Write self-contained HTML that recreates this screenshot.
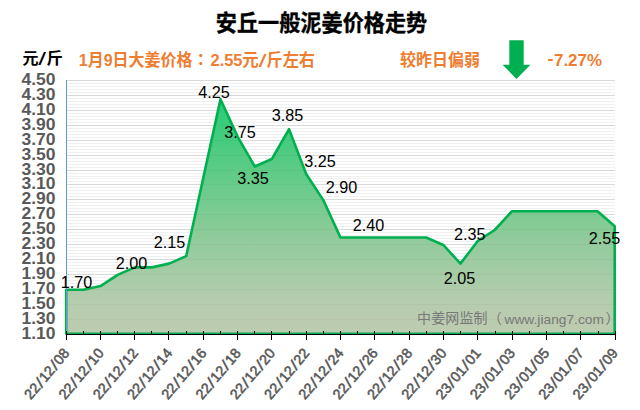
<!DOCTYPE html>
<html><head><meta charset="utf-8"><title>安丘一般泥姜价格走势</title>
<style>
html,body{margin:0;padding:0;background:#fff;}
body{width:640px;height:410px;overflow:hidden;}
svg{display:block;}
text{font-family:"Liberation Sans","Noto Sans CJK SC",sans-serif;}
.cjk{font-family:"Liberation Sans","Noto Sans CJK SC",sans-serif;font-weight:bold;}
.yl{font-size:16px;font-weight:bold;fill:#595959;text-anchor:end;}
.xl{font-size:14.3px;font-weight:bold;fill:#595959;text-anchor:end;}
.xl2 text{font-size:14.3px;font-weight:normal;fill:#595959;stroke:#595959;stroke-width:0.55px;}
.dl{font-size:16.2px;fill:#000;text-anchor:middle;}
</style></head><body>
<svg width="640" height="410" viewBox="0 0 640 410">
<defs>
<linearGradient id="g" gradientUnits="userSpaceOnUse" x1="0" y1="98" x2="0" y2="334">
<stop offset="0" stop-color="rgb(40,205,117)"/>
<stop offset="0.22" stop-color="rgb(78,203,128)"/>
<stop offset="0.60" stop-color="rgb(145,203,155)"/>
<stop offset="0.856" stop-color="rgb(181,204,174)"/>
<stop offset="1" stop-color="rgb(189,204,177)"/>
</linearGradient>
<clipPath id="c"><rect x="66" y="70" width="550.6" height="264.5"/></clipPath>
</defs>
<rect width="640" height="410" fill="#fff"/>
<g shape-rendering="crispEdges"><rect x="67" y="80" width="548" height="1" fill="#d9d9d9"/><rect x="67" y="83" width="548" height="1" fill="#f0f0f0"/><rect x="67" y="86" width="548" height="1" fill="#f0f0f0"/><rect x="67" y="89" width="548" height="1" fill="#f0f0f0"/><rect x="67" y="92" width="548" height="1" fill="#f0f0f0"/><rect x="67" y="95" width="548" height="1" fill="#d9d9d9"/><rect x="67" y="98" width="548" height="1" fill="#f0f0f0"/><rect x="67" y="101" width="548" height="1" fill="#f0f0f0"/><rect x="67" y="104" width="548" height="1" fill="#f0f0f0"/><rect x="67" y="107" width="548" height="1" fill="#f0f0f0"/><rect x="67" y="110" width="548" height="1" fill="#d9d9d9"/><rect x="67" y="113" width="548" height="1" fill="#f0f0f0"/><rect x="67" y="116" width="548" height="1" fill="#f0f0f0"/><rect x="67" y="119" width="548" height="1" fill="#f0f0f0"/><rect x="67" y="122" width="548" height="1" fill="#f0f0f0"/><rect x="67" y="125" width="548" height="1" fill="#d9d9d9"/><rect x="67" y="128" width="548" height="1" fill="#f0f0f0"/><rect x="67" y="131" width="548" height="1" fill="#f0f0f0"/><rect x="67" y="134" width="548" height="1" fill="#f0f0f0"/><rect x="67" y="137" width="548" height="1" fill="#f0f0f0"/><rect x="67" y="140" width="548" height="1" fill="#d9d9d9"/><rect x="67" y="143" width="548" height="1" fill="#f0f0f0"/><rect x="67" y="146" width="548" height="1" fill="#f0f0f0"/><rect x="67" y="149" width="548" height="1" fill="#f0f0f0"/><rect x="67" y="152" width="548" height="1" fill="#f0f0f0"/><rect x="67" y="155" width="548" height="1" fill="#d9d9d9"/><rect x="67" y="158" width="548" height="1" fill="#f0f0f0"/><rect x="67" y="161" width="548" height="1" fill="#f0f0f0"/><rect x="67" y="164" width="548" height="1" fill="#f0f0f0"/><rect x="67" y="167" width="548" height="1" fill="#f0f0f0"/><rect x="67" y="170" width="548" height="1" fill="#d9d9d9"/><rect x="67" y="173" width="548" height="1" fill="#f0f0f0"/><rect x="67" y="176" width="548" height="1" fill="#f0f0f0"/><rect x="67" y="178" width="548" height="1" fill="#f0f0f0"/><rect x="67" y="181" width="548" height="1" fill="#f0f0f0"/><rect x="67" y="184" width="548" height="1" fill="#d9d9d9"/><rect x="67" y="187" width="548" height="1" fill="#f0f0f0"/><rect x="67" y="190" width="548" height="1" fill="#f0f0f0"/><rect x="67" y="193" width="548" height="1" fill="#f0f0f0"/><rect x="67" y="196" width="548" height="1" fill="#f0f0f0"/><rect x="67" y="199" width="548" height="1" fill="#d9d9d9"/><rect x="67" y="202" width="548" height="1" fill="#f0f0f0"/><rect x="67" y="205" width="548" height="1" fill="#f0f0f0"/><rect x="67" y="208" width="548" height="1" fill="#f0f0f0"/><rect x="67" y="211" width="548" height="1" fill="#f0f0f0"/><rect x="67" y="214" width="548" height="1" fill="#d9d9d9"/><rect x="67" y="217" width="548" height="1" fill="#f0f0f0"/><rect x="67" y="220" width="548" height="1" fill="#f0f0f0"/><rect x="67" y="223" width="548" height="1" fill="#f0f0f0"/><rect x="67" y="226" width="548" height="1" fill="#f0f0f0"/><rect x="67" y="229" width="548" height="1" fill="#d9d9d9"/><rect x="67" y="232" width="548" height="1" fill="#f0f0f0"/><rect x="67" y="235" width="548" height="1" fill="#f0f0f0"/><rect x="67" y="238" width="548" height="1" fill="#f0f0f0"/><rect x="67" y="241" width="548" height="1" fill="#f0f0f0"/><rect x="67" y="244" width="548" height="1" fill="#d9d9d9"/><rect x="67" y="247" width="548" height="1" fill="#f0f0f0"/><rect x="67" y="250" width="548" height="1" fill="#f0f0f0"/><rect x="67" y="253" width="548" height="1" fill="#f0f0f0"/><rect x="67" y="256" width="548" height="1" fill="#f0f0f0"/><rect x="67" y="259" width="548" height="1" fill="#d9d9d9"/><rect x="67" y="262" width="548" height="1" fill="#f0f0f0"/><rect x="67" y="265" width="548" height="1" fill="#f0f0f0"/><rect x="67" y="268" width="548" height="1" fill="#f0f0f0"/><rect x="67" y="271" width="548" height="1" fill="#f0f0f0"/><rect x="67" y="274" width="548" height="1" fill="#d9d9d9"/><rect x="67" y="277" width="548" height="1" fill="#f0f0f0"/><rect x="67" y="280" width="548" height="1" fill="#f0f0f0"/><rect x="67" y="283" width="548" height="1" fill="#f0f0f0"/><rect x="67" y="286" width="548" height="1" fill="#f0f0f0"/><rect x="67" y="289" width="548" height="1" fill="#d9d9d9"/><rect x="67" y="292" width="548" height="1" fill="#f0f0f0"/><rect x="67" y="295" width="548" height="1" fill="#f0f0f0"/><rect x="67" y="298" width="548" height="1" fill="#f0f0f0"/><rect x="67" y="301" width="548" height="1" fill="#f0f0f0"/><rect x="67" y="304" width="548" height="1" fill="#d9d9d9"/><rect x="67" y="307" width="548" height="1" fill="#f0f0f0"/><rect x="67" y="310" width="548" height="1" fill="#f0f0f0"/><rect x="67" y="313" width="548" height="1" fill="#f0f0f0"/><rect x="67" y="316" width="548" height="1" fill="#f0f0f0"/><rect x="67" y="319" width="548" height="1" fill="#d9d9d9"/><rect x="67" y="322" width="548" height="1" fill="#f0f0f0"/><rect x="67" y="325" width="548" height="1" fill="#f0f0f0"/><rect x="67" y="328" width="548" height="1" fill="#f0f0f0"/><rect x="67" y="331" width="548" height="1" fill="#f0f0f0"/><rect x="67" y="334" width="548" height="1" fill="#d9d9d9"/></g>
<path d="M66.20,333.75 L66.20,289.80 L83.34,289.80 L100.48,286.06 L117.62,274.85 L134.76,267.38 L151.90,267.38 L169.04,263.64 L186.18,256.16 L203.32,177.67 L220.47,99.19 L237.61,136.56 L254.75,166.46 L271.89,158.99 L289.03,129.09 L306.17,173.94 L323.31,200.10 L340.45,237.47 L357.59,237.47 L374.73,237.47 L391.87,237.47 L409.01,237.47 L426.15,237.47 L443.29,244.95 L460.43,263.64 L477.57,241.21 L494.72,230.00 L511.86,211.31 L529.00,211.31 L546.14,211.31 L563.28,211.31 L580.42,211.31 L597.56,211.31 L614.70,226.26 L614.70,333.75 Z" fill="url(#g)"/>
<clipPath id="ac"><path d="M66.20,333.75 L66.20,289.80 L83.34,289.80 L100.48,286.06 L117.62,274.85 L134.76,267.38 L151.90,267.38 L169.04,263.64 L186.18,256.16 L203.32,177.67 L220.47,99.19 L237.61,136.56 L254.75,166.46 L271.89,158.99 L289.03,129.09 L306.17,173.94 L323.31,200.10 L340.45,237.47 L357.59,237.47 L374.73,237.47 L391.87,237.47 L409.01,237.47 L426.15,237.47 L443.29,244.95 L460.43,263.64 L477.57,241.21 L494.72,230.00 L511.86,211.31 L529.00,211.31 L546.14,211.31 L563.28,211.31 L580.42,211.31 L597.56,211.31 L614.70,226.26 L614.70,333.75 Z"/></clipPath>
<g clip-path="url(#ac)" fill="#000" fill-opacity="0.03" shape-rendering="crispEdges"><rect x="67" y="80" width="548" height="1"/><rect x="67" y="95" width="548" height="1"/><rect x="67" y="110" width="548" height="1"/><rect x="67" y="125" width="548" height="1"/><rect x="67" y="140" width="548" height="1"/><rect x="67" y="155" width="548" height="1"/><rect x="67" y="170" width="548" height="1"/><rect x="67" y="184" width="548" height="1"/><rect x="67" y="199" width="548" height="1"/><rect x="67" y="214" width="548" height="1"/><rect x="67" y="229" width="548" height="1"/><rect x="67" y="244" width="548" height="1"/><rect x="67" y="259" width="548" height="1"/><rect x="67" y="274" width="548" height="1"/><rect x="67" y="289" width="548" height="1"/><rect x="67" y="304" width="548" height="1"/><rect x="67" y="319" width="548" height="1"/><rect x="67" y="334" width="548" height="1"/></g>
<path d="M66.20,333.75 L66.20,289.80 L83.34,289.80 L100.48,286.06 L117.62,274.85 L134.76,267.38 L151.90,267.38 L169.04,263.64 L186.18,256.16 L203.32,177.67 L220.47,99.19 L237.61,136.56 L254.75,166.46 L271.89,158.99 L289.03,129.09 L306.17,173.94 L323.31,200.10 L340.45,237.47 L357.59,237.47 L374.73,237.47 L391.87,237.47 L409.01,237.47 L426.15,237.47 L443.29,244.95 L460.43,263.64 L477.57,241.21 L494.72,230.00 L511.86,211.31 L529.00,211.31 L546.14,211.31 L563.28,211.31 L580.42,211.31 L597.56,211.31 L614.70,226.26 L614.70,333.75 Z" fill="none" stroke="#00b050" stroke-width="2.6" stroke-linejoin="round"/>
<rect x="66" y="80" width="1" height="252" fill="#5b9bd5"/>
<g shape-rendering="crispEdges"><rect x="66" y="334" width="550" height="1" fill="#000"/><rect x="66" y="331" width="1" height="9" fill="#000"/><rect x="83" y="331" width="1" height="3" fill="#000"/><rect x="100" y="331" width="1" height="9" fill="#000"/><rect x="117" y="331" width="1" height="3" fill="#000"/><rect x="134" y="331" width="1" height="9" fill="#000"/><rect x="151" y="331" width="1" height="3" fill="#000"/><rect x="168" y="331" width="1" height="9" fill="#000"/><rect x="186" y="331" width="1" height="3" fill="#000"/><rect x="203" y="331" width="1" height="9" fill="#000"/><rect x="220" y="331" width="1" height="3" fill="#000"/><rect x="237" y="331" width="1" height="9" fill="#000"/><rect x="254" y="331" width="1" height="3" fill="#000"/><rect x="271" y="331" width="1" height="9" fill="#000"/><rect x="289" y="331" width="1" height="3" fill="#000"/><rect x="306" y="331" width="1" height="9" fill="#000"/><rect x="323" y="331" width="1" height="3" fill="#000"/><rect x="340" y="331" width="1" height="9" fill="#000"/><rect x="357" y="331" width="1" height="3" fill="#000"/><rect x="374" y="331" width="1" height="9" fill="#000"/><rect x="392" y="331" width="1" height="3" fill="#000"/><rect x="409" y="331" width="1" height="9" fill="#000"/><rect x="426" y="331" width="1" height="3" fill="#000"/><rect x="443" y="331" width="1" height="9" fill="#000"/><rect x="460" y="331" width="1" height="3" fill="#000"/><rect x="477" y="331" width="1" height="9" fill="#000"/><rect x="495" y="331" width="1" height="3" fill="#000"/><rect x="512" y="331" width="1" height="9" fill="#000"/><rect x="529" y="331" width="1" height="3" fill="#000"/><rect x="546" y="331" width="1" height="9" fill="#000"/><rect x="563" y="331" width="1" height="3" fill="#000"/><rect x="580" y="331" width="1" height="9" fill="#000"/><rect x="598" y="331" width="1" height="3" fill="#000"/><rect x="615" y="331" width="1" height="9" fill="#000"/></g>
<text class="yl" x="55.5" y="84.8" textLength="34" lengthAdjust="spacingAndGlyphs">4.50</text>
<text class="yl" x="55.5" y="99.8" textLength="34" lengthAdjust="spacingAndGlyphs">4.30</text>
<text class="yl" x="55.5" y="114.7" textLength="34" lengthAdjust="spacingAndGlyphs">4.10</text>
<text class="yl" x="55.5" y="129.7" textLength="34" lengthAdjust="spacingAndGlyphs">3.90</text>
<text class="yl" x="55.5" y="144.6" textLength="34" lengthAdjust="spacingAndGlyphs">3.70</text>
<text class="yl" x="55.5" y="159.6" textLength="34" lengthAdjust="spacingAndGlyphs">3.50</text>
<text class="yl" x="55.5" y="174.5" textLength="34" lengthAdjust="spacingAndGlyphs">3.30</text>
<text class="yl" x="55.5" y="189.4" textLength="34" lengthAdjust="spacingAndGlyphs">3.10</text>
<text class="yl" x="55.5" y="204.4" textLength="34" lengthAdjust="spacingAndGlyphs">2.90</text>
<text class="yl" x="55.5" y="219.3" textLength="34" lengthAdjust="spacingAndGlyphs">2.70</text>
<text class="yl" x="55.5" y="234.3" textLength="34" lengthAdjust="spacingAndGlyphs">2.50</text>
<text class="yl" x="55.5" y="249.2" textLength="34" lengthAdjust="spacingAndGlyphs">2.30</text>
<text class="yl" x="55.5" y="264.2" textLength="34" lengthAdjust="spacingAndGlyphs">2.10</text>
<text class="yl" x="55.5" y="279.2" textLength="34" lengthAdjust="spacingAndGlyphs">1.90</text>
<text class="yl" x="55.5" y="294.1" textLength="34" lengthAdjust="spacingAndGlyphs">1.70</text>
<text class="yl" x="55.5" y="309.1" textLength="34" lengthAdjust="spacingAndGlyphs">1.50</text>
<text class="yl" x="55.5" y="324.0" textLength="34" lengthAdjust="spacingAndGlyphs">1.30</text>
<text class="yl" x="55.5" y="338.9" textLength="34" lengthAdjust="spacingAndGlyphs">1.10</text>
<g class="xl2" transform="translate(70.2,353.5) rotate(-50)"><text x="-61.2">22</text><text transform="translate(-41.9,0.6) scale(1.6,1.08)" text-anchor="middle" style="stroke-width:0.15px">/</text><text x="-38.55">12</text><text transform="translate(-19.3,0.6) scale(1.6,1.08)" text-anchor="middle" style="stroke-width:0.15px">/</text><text x="-15.9">08</text></g>
<g class="xl2" transform="translate(104.5,353.5) rotate(-50)"><text x="-61.2">22</text><text transform="translate(-41.9,0.6) scale(1.6,1.08)" text-anchor="middle" style="stroke-width:0.15px">/</text><text x="-38.55">12</text><text transform="translate(-19.3,0.6) scale(1.6,1.08)" text-anchor="middle" style="stroke-width:0.15px">/</text><text x="-15.9">10</text></g>
<g class="xl2" transform="translate(138.8,353.5) rotate(-50)"><text x="-61.2">22</text><text transform="translate(-41.9,0.6) scale(1.6,1.08)" text-anchor="middle" style="stroke-width:0.15px">/</text><text x="-38.55">12</text><text transform="translate(-19.3,0.6) scale(1.6,1.08)" text-anchor="middle" style="stroke-width:0.15px">/</text><text x="-15.9">12</text></g>
<g class="xl2" transform="translate(173.0,353.5) rotate(-50)"><text x="-61.2">22</text><text transform="translate(-41.9,0.6) scale(1.6,1.08)" text-anchor="middle" style="stroke-width:0.15px">/</text><text x="-38.55">12</text><text transform="translate(-19.3,0.6) scale(1.6,1.08)" text-anchor="middle" style="stroke-width:0.15px">/</text><text x="-15.9">14</text></g>
<g class="xl2" transform="translate(207.3,353.5) rotate(-50)"><text x="-61.2">22</text><text transform="translate(-41.9,0.6) scale(1.6,1.08)" text-anchor="middle" style="stroke-width:0.15px">/</text><text x="-38.55">12</text><text transform="translate(-19.3,0.6) scale(1.6,1.08)" text-anchor="middle" style="stroke-width:0.15px">/</text><text x="-15.9">16</text></g>
<g class="xl2" transform="translate(241.6,353.5) rotate(-50)"><text x="-61.2">22</text><text transform="translate(-41.9,0.6) scale(1.6,1.08)" text-anchor="middle" style="stroke-width:0.15px">/</text><text x="-38.55">12</text><text transform="translate(-19.3,0.6) scale(1.6,1.08)" text-anchor="middle" style="stroke-width:0.15px">/</text><text x="-15.9">18</text></g>
<g class="xl2" transform="translate(275.9,353.5) rotate(-50)"><text x="-61.2">22</text><text transform="translate(-41.9,0.6) scale(1.6,1.08)" text-anchor="middle" style="stroke-width:0.15px">/</text><text x="-38.55">12</text><text transform="translate(-19.3,0.6) scale(1.6,1.08)" text-anchor="middle" style="stroke-width:0.15px">/</text><text x="-15.9">20</text></g>
<g class="xl2" transform="translate(310.2,353.5) rotate(-50)"><text x="-61.2">22</text><text transform="translate(-41.9,0.6) scale(1.6,1.08)" text-anchor="middle" style="stroke-width:0.15px">/</text><text x="-38.55">12</text><text transform="translate(-19.3,0.6) scale(1.6,1.08)" text-anchor="middle" style="stroke-width:0.15px">/</text><text x="-15.9">22</text></g>
<g class="xl2" transform="translate(344.4,353.5) rotate(-50)"><text x="-61.2">22</text><text transform="translate(-41.9,0.6) scale(1.6,1.08)" text-anchor="middle" style="stroke-width:0.15px">/</text><text x="-38.55">12</text><text transform="translate(-19.3,0.6) scale(1.6,1.08)" text-anchor="middle" style="stroke-width:0.15px">/</text><text x="-15.9">24</text></g>
<g class="xl2" transform="translate(378.7,353.5) rotate(-50)"><text x="-61.2">22</text><text transform="translate(-41.9,0.6) scale(1.6,1.08)" text-anchor="middle" style="stroke-width:0.15px">/</text><text x="-38.55">12</text><text transform="translate(-19.3,0.6) scale(1.6,1.08)" text-anchor="middle" style="stroke-width:0.15px">/</text><text x="-15.9">26</text></g>
<g class="xl2" transform="translate(413.0,353.5) rotate(-50)"><text x="-61.2">22</text><text transform="translate(-41.9,0.6) scale(1.6,1.08)" text-anchor="middle" style="stroke-width:0.15px">/</text><text x="-38.55">12</text><text transform="translate(-19.3,0.6) scale(1.6,1.08)" text-anchor="middle" style="stroke-width:0.15px">/</text><text x="-15.9">28</text></g>
<g class="xl2" transform="translate(447.3,353.5) rotate(-50)"><text x="-61.2">22</text><text transform="translate(-41.9,0.6) scale(1.6,1.08)" text-anchor="middle" style="stroke-width:0.15px">/</text><text x="-38.55">12</text><text transform="translate(-19.3,0.6) scale(1.6,1.08)" text-anchor="middle" style="stroke-width:0.15px">/</text><text x="-15.9">30</text></g>
<g class="xl2" transform="translate(481.6,353.5) rotate(-50)"><text x="-61.2">23</text><text transform="translate(-41.9,0.6) scale(1.6,1.08)" text-anchor="middle" style="stroke-width:0.15px">/</text><text x="-38.55">01</text><text transform="translate(-19.3,0.6) scale(1.6,1.08)" text-anchor="middle" style="stroke-width:0.15px">/</text><text x="-15.9">01</text></g>
<g class="xl2" transform="translate(515.9,353.5) rotate(-50)"><text x="-61.2">23</text><text transform="translate(-41.9,0.6) scale(1.6,1.08)" text-anchor="middle" style="stroke-width:0.15px">/</text><text x="-38.55">01</text><text transform="translate(-19.3,0.6) scale(1.6,1.08)" text-anchor="middle" style="stroke-width:0.15px">/</text><text x="-15.9">03</text></g>
<g class="xl2" transform="translate(550.1,353.5) rotate(-50)"><text x="-61.2">23</text><text transform="translate(-41.9,0.6) scale(1.6,1.08)" text-anchor="middle" style="stroke-width:0.15px">/</text><text x="-38.55">01</text><text transform="translate(-19.3,0.6) scale(1.6,1.08)" text-anchor="middle" style="stroke-width:0.15px">/</text><text x="-15.9">05</text></g>
<g class="xl2" transform="translate(584.4,353.5) rotate(-50)"><text x="-61.2">23</text><text transform="translate(-41.9,0.6) scale(1.6,1.08)" text-anchor="middle" style="stroke-width:0.15px">/</text><text x="-38.55">01</text><text transform="translate(-19.3,0.6) scale(1.6,1.08)" text-anchor="middle" style="stroke-width:0.15px">/</text><text x="-15.9">07</text></g>
<g class="xl2" transform="translate(618.7,353.5) rotate(-50)"><text x="-61.2">23</text><text transform="translate(-41.9,0.6) scale(1.6,1.08)" text-anchor="middle" style="stroke-width:0.15px">/</text><text x="-38.55">01</text><text transform="translate(-19.3,0.6) scale(1.6,1.08)" text-anchor="middle" style="stroke-width:0.15px">/</text><text x="-15.9">09</text></g>
<text class="dl" x="76.4" y="288">1.70</text>
<text class="dl" x="131.6" y="268.75">2.00</text>
<text class="dl" x="169.4" y="248">2.15</text>
<text class="dl" x="213.9" y="97.9">4.25</text>
<text class="dl" x="240.1" y="137.5">3.75</text>
<text class="dl" x="287.5" y="121.25">3.85</text>
<text class="dl" x="253" y="183.75">3.35</text>
<text class="dl" x="320" y="167">3.25</text>
<text class="dl" x="341.6" y="192.5">2.90</text>
<text class="dl" x="368.4" y="230.5">2.40</text>
<text class="dl" x="469.75" y="240">2.35</text>
<text class="dl" x="459.4" y="284.25">2.05</text>
<text class="dl" x="604.5" y="243.75">2.55</text>
<g fill="#787878" style="font-family:'Liberation Sans','Noto Sans CJK SC',sans-serif"><text x="417.1" y="323.4" font-size="14" textLength="84.6" lengthAdjust="spacing">中姜网监制（</text><text x="504.5" y="324" font-size="13.6" textLength="99.4" lengthAdjust="spacingAndGlyphs">www.jiang7.com</text><text x="605.6" y="323.4" font-size="14">）</text></g>
<text class="cjk" x="321.5" y="31" font-size="22.3" text-anchor="middle" fill="#000" stroke="#000" stroke-width="0.35" textLength="211.5" lengthAdjust="spacingAndGlyphs">安丘一般泥姜价格走势</text>
<text class="cjk" x="22.6" y="63.8" font-size="16" fill="#000">元</text><text class="cjk" transform="translate(42.2,64.6) scale(1.75,1.12)" text-anchor="middle" font-size="16" style="font-weight:normal" fill="#000">/</text><text class="cjk" x="46.4" y="63.8" font-size="16.4" fill="#000">斤</text>
<text class="cjk" x="78.75" y="66.3" font-size="16.6" fill="#ed7d31" textLength="113.75" lengthAdjust="spacingAndGlyphs">1月9日大姜价格</text>
<text class="cjk" x="200.75" y="66.3" font-size="16.6" fill="#ed7d31" text-anchor="middle" style="font-family:'Liberation Sans','Noto Sans CJK TC',sans-serif">：</text>
<g class="cjk" font-size="16.6" fill="#ed7d31"><text x="210.5" y="66.3" textLength="32" lengthAdjust="spacingAndGlyphs">2.55</text><text x="242.3" y="66.3" textLength="16.4" lengthAdjust="spacingAndGlyphs">元</text><text transform="translate(262.6,66.9) scale(1.75,1.12)" text-anchor="middle" style="font-weight:normal">/</text><text x="266.5" y="66.3" textLength="48.4" lengthAdjust="spacingAndGlyphs">斤左右</text></g>
<text class="cjk" x="400" y="66.3" font-size="16.6" fill="#ed7d31" textLength="80" lengthAdjust="spacingAndGlyphs">较昨日偏弱</text>
<g font-size="16.3" font-weight="bold" fill="#ed7d31"><text x="547.4" y="64.3" textLength="6" lengthAdjust="spacingAndGlyphs">-</text><text x="554" y="65.6" textLength="48" lengthAdjust="spacingAndGlyphs">7.27%</text></g>
<path d="M509.3,40.3 H523.7 V64.8 H530.4 L516.5,78.9 L502.6,64.8 H509.3 Z" fill="#00b050"/>
</svg></body></html>
